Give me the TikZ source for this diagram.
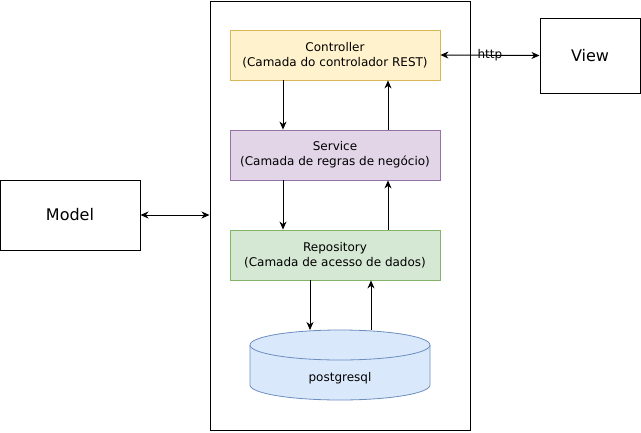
\documentclass[tikz,border=0pt]{standalone}
\usepackage{fontspec}
\setmainfont{DejaVu Sans}
\usetikzlibrary{arrows.meta}
\definecolor{ctrlfill}{HTML}{FFF2CC}
\definecolor{ctrldraw}{HTML}{D6B656}
\definecolor{svcfill}{HTML}{E1D5E7}
\definecolor{svcdraw}{HTML}{9673A6}
\definecolor{repofill}{HTML}{D5E8D4}
\definecolor{repodraw}{HTML}{82B366}
\definecolor{dbfill}{HTML}{DAE8FC}
\definecolor{dbdraw}{HTML}{6C8EBF}
\begin{document}
\begin{tikzpicture}[x=1pt,y=-1pt,
  layer/.style={draw, rectangle, minimum width=210pt, minimum height=50pt, align=center, inner sep=0pt, font=\fontsize{12}{15}\selectfont, line width=0.8pt},
  plainbox/.style={draw, rectangle, inner sep=0pt, font=\fontsize{16}{19}\selectfont, line width=1pt},
  arr/.style={-{Stealth[length=8pt,width=7pt,inset=2.5pt]}, line width=1pt},
  darr/.style={{Stealth[length=8pt,width=7pt,inset=2.5pt]}-{Stealth[length=8pt,width=7pt,inset=2.5pt]}, line width=1pt}]
\useasboundingbox (0,0) rectangle (641,432);
% container
\node[draw, rectangle, minimum width=260pt, minimum height=429pt, inner sep=0pt, line width=1pt] (cont) at (340,215.5) {};
% layers
\node[layer, fill=ctrlfill, draw=ctrldraw] (ctrl) at (335,55) {Controller\\(Camada do controlador REST)};
\node[layer, fill=svcfill, draw=svcdraw] (svc) at (335,155) {Service\\(Camada de regras de negócio)};
\node[layer, fill=repofill, draw=repodraw] (repo) at (335,255) {Repository\\(Camada de acesso de dados)};
% database cylinder
\filldraw[fill=dbfill, draw=dbdraw, line width=0.8pt]
  (250,345) -- (250,385) arc[start angle=180, end angle=360, x radius=90, y radius=-15]
  -- (430,345) arc[start angle=0, end angle=180, x radius=90, y radius=-15] -- cycle;
\draw[dbdraw, line width=0.8pt] (250,345) arc[start angle=180, end angle=360, x radius=90, y radius=-15];
\node[font=\fontsize{12}{15}\selectfont] (db) at (340,378) {postgresql};
\coordinate (dbin) at (310,330);
\coordinate (dbout) at (371,330);
% outside boxes
\node[plainbox, minimum width=100pt, minimum height=75pt] (view) at (590,55.5) {View};
\node[plainbox, minimum width=140pt, minimum height=70pt] (model) at (70,215) {Model};
% connectors
\draw[arr] ([xshift=-52pt]ctrl.south) -- ([xshift=-52pt]svc.north);
\draw[arr] ([xshift=53pt]svc.north) -- ([xshift=53pt]ctrl.south);
\draw[arr] ([xshift=-52pt]svc.south) -- ([xshift=-52pt]repo.north);
\draw[arr] ([xshift=53pt]repo.north) -- ([xshift=53pt]svc.south);
\draw[arr] (repo.south -| dbin) -- (dbin);
\draw[arr] (dbout) -- (repo.south -| dbout);
\draw[darr] (ctrl.east) -- (view.west) node[midway, font=\fontsize{12}{15}\selectfont, inner sep=0pt] (http) {http};
\draw[darr] (model.east) -- (model.east -| cont.west);
\end{tikzpicture}
\end{document}
